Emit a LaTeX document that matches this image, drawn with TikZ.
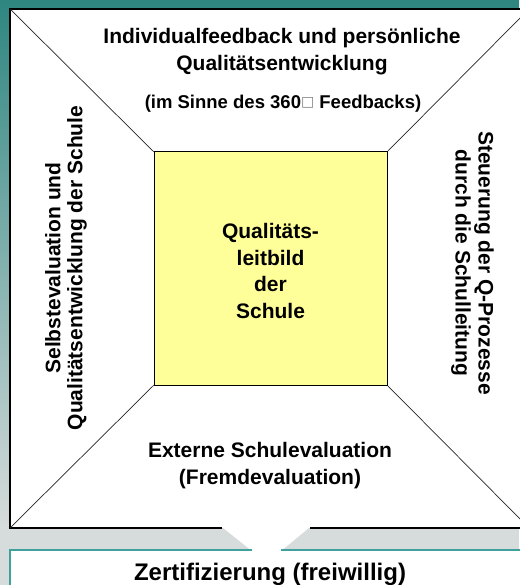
\documentclass[tikz,border=0pt]{standalone}
\usepackage{fontspec}
\setmainfont{Liberation Sans}
\newfontfamily\boxfont{DejaVu Sans}
\usetikzlibrary{positioning}
\definecolor{tealtop}{RGB}{46,134,128}
\definecolor{bggray}{RGB}{214,219,219}
\definecolor{leitgelb}{RGB}{255,255,153}
\definecolor{zertrand}{RGB}{64,160,156}
\tikzset{
  feldtext/.style={font=\fontsize{21}{24}\selectfont\bfseries, align=center, inner sep=0pt},
  diagonale/.style={line width=0.7pt, black!85}
}

\begin{document}
\begin{tikzpicture}[x=1pt, y=-1pt]
        \useasboundingbox (0,0) rectangle (519,585);
        \shade[top color=tealtop, bottom color=bggray] (0,0) rectangle (519,525);
        \fill[bggray] (0,524) rectangle (519,585);

        % outer square, cut on the right by the page
        \coordinate (A) at (10, 9);
        \coordinate (B) at (529, 9);
        \coordinate (C) at (529, 528);
        \coordinate (D) at (10, 528);
        % inner square
        \coordinate (a) at (154, 152);
        \coordinate (b) at (387, 152);
        \coordinate (c) at (387, 385);
        \coordinate (d) at (154, 385);
        % pointer to the lower box
        \coordinate (W1) at (222, 528);
        \coordinate (W2) at (310, 528);
        \coordinate (W3) at (281, 550);
        \coordinate (W4) at (252, 550);

        \fill[white] (A) rectangle (C);
        \fill[white] (10, 550) rectangle (535, 600);
        \fill[white] ([yshift=1pt]W1) -- ([yshift=1pt]W2) -- ([yshift=-1pt]W3) -- ([yshift=-1pt]W4) -- cycle;
        \draw[line width=1.3pt] (W1) -- (D) -- (A) -- (B) -- (C) -- (W2);
        \draw[zertrand, line width=1.3pt] (W4) -- (10, 550) -- (10, 600);
        \draw[zertrand, line width=1.3pt] (W3) -- (535, 550);

        \draw[diagonale] (A) -- (a);
        \draw[diagonale] (B) -- (b);
        \draw[diagonale] (C) -- (c);
        \draw[diagonale] (D) -- (d);
        \draw[fill=leitgelb, line width=1pt] (a) rectangle (c);

        \node[feldtext, font=\fontsize{21}{26.7}\selectfont\bfseries, anchor=north] (feedback) at (282, 28)
            {Individualfeedback und persönliche\\Qualitätsentwicklung};
        \node[feldtext, font=\fontsize{18.5}{22}\selectfont\bfseries, anchor=base] (feedbacknote) at (283, 109)
            {(im Sinne des 360\raisebox{2.5pt}{\boxfont\fontsize{14}{14}\selectfont\mdseries\color{gray}□} Feedbacks)};
        \node[feldtext, font=\fontsize{21}{22}\selectfont\bfseries, rotate=90] (selbst) at (66, 268)
            {Selbstevaluation und\\Qualitätsentwicklung der Schule};
        \node[feldtext, font=\fontsize{21}{23}\selectfont\bfseries, rotate=-90] (steuerung) at (472.5, 263)
            {Steuerung der Q-Prozesse\\durch die Schulleitung};
        \node[feldtext, font=\fontsize{21}{26.5}\selectfont\bfseries] (leitbild) at (270.5, 271)
            {Qualitäts-\\leitbild\\der\\Schule};
        \node[feldtext, font=\fontsize{21}{27}\selectfont\bfseries] (extern) at (270, 466)
            {Externe Schulevaluation\\(Fremdevaluation)};
        \node[feldtext, font=\fontsize{24}{28}\selectfont\bfseries, anchor=base] (zert) at (270, 580)
            {Zertifizierung (freiwillig)};

    \end{tikzpicture}
\end{document}
